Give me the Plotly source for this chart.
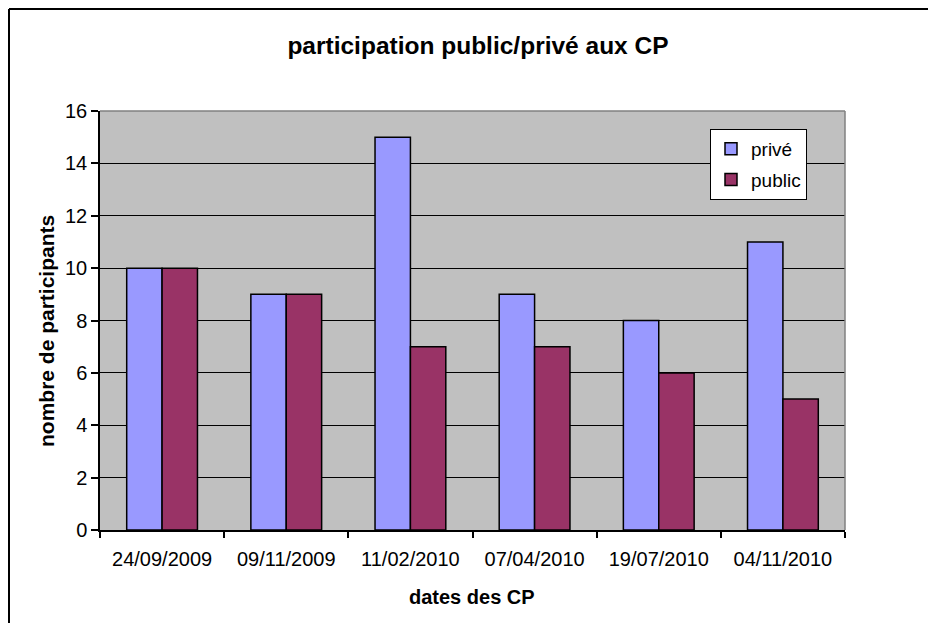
import plotly.graph_objects as go

categories = ["24/09/2009", "09/11/2009", "11/02/2010", "07/04/2010", "19/07/2010", "04/11/2010"]
prive = [10, 9, 15, 9, 8, 11]
public = [10, 9, 7, 7, 6, 5]
y_ticks = [0, 2, 4, 6, 8, 10, 12, 14, 16]

FONT = "Liberation Sans, Arial, sans-serif"

OFF = 8  # page body margin offset in the screenshot
W, H = 936 - OFF, 623 - OFF
L, R, T, B = 100 - OFF, 845 - OFF, 111 - OFF, 530 - OFF


def px_x(p):
    """screenshot x pixel -> paper coordinate"""
    return (p - OFF - L) / (R - L)


def px_y(p):
    """screenshot y pixel -> paper coordinate"""
    return (B - (p - OFF)) / (B - T)


fig = go.Figure()
fig.add_trace(go.Bar(x=categories, y=prive, name="privé", legendgroup="a",
                     marker=dict(color="#9999FF", line=dict(color="black", width=1.5))))
fig.add_trace(go.Bar(x=categories, y=public, name="public", legendgroup="b",
                     marker=dict(color="#993366", line=dict(color="black", width=1.5))))

shapes = [
    dict(type="line", xref="paper", yref="paper", x0=0, x1=1, y0=1, y1=1,
         line=dict(color="#808080", width=1.5)),
    dict(type="line", xref="paper", yref="paper", x0=1, x1=1, y0=0, y1=1,
         line=dict(color="#808080", width=1.5)),
    # outer chart border: only top and left edges are visible
    dict(type="line", xref="paper", yref="paper",
         x0=px_x(OFF + 1), x1=px_x(OFF + W + 20), y0=px_y(OFF + 1), y1=px_y(OFF + 1),
         line=dict(color="black", width=2)),
    dict(type="line", xref="paper", yref="paper",
         x0=px_x(OFF + 1), x1=px_x(OFF + 1), y0=px_y(OFF + 1), y1=px_y(OFF + H + 20),
         line=dict(color="black", width=2)),
]

annotations = [
    dict(text="<b>dates des CP</b>", xref="paper", yref="paper", x=px_x(472), y=px_y(597),
         showarrow=False, xanchor="center", yanchor="middle",
         font=dict(family=FONT, size=20, color="black")),
    dict(text="<b>nombre de participants</b>", xref="paper", yref="paper", x=px_x(46), y=px_y(331),
         showarrow=False, xanchor="center", yanchor="middle", textangle=-90,
         font=dict(family=FONT, size=21, color="black")),
]

fig.update_layout(
    width=W, height=H,
    margin=dict(l=L, r=W - R, t=T, b=H - B, pad=0),
    paper_bgcolor="white",
    plot_bgcolor="#C0C0C0",
    barmode="group",
    bargap=0.43,
    bargroupgap=0,
    font=dict(family=FONT, size=20, color="black"),
    title=dict(text="<b>participation public/privé aux CP</b>", x=px_x(478), xref="paper",
               xanchor="center", y=1 - (45 - OFF) / H, yanchor="middle",
               font=dict(family=FONT, size=24.5, color="black")),
    showlegend=True,
    legend=dict(x=px_x(710), y=px_y(129), xanchor="left", yanchor="top",
                bgcolor="white", bordercolor="black", borderwidth=1,
                font=dict(family=FONT, size=19, color="black"),
                traceorder="grouped", tracegroupgap=3, itemwidth=30),
    xaxis=dict(type="category", tickson="boundaries", ticks="outside", ticklen=6,
               tickcolor="black", tickwidth=1.5, showline=True, linecolor="black", linewidth=1.5,
               showgrid=False, tickfont=dict(family=FONT, size=20, color="black"),
               ticklabelstandoff=10, automargin=False),
    yaxis=dict(range=[0, 16], tickvals=y_ticks, ticks="outside", ticklen=7,
               tickcolor="black", tickwidth=1.5, showline=True, linecolor="black", linewidth=1.5,
               showgrid=True, gridcolor="black", gridwidth=1, zeroline=False,
               tickfont=dict(family=FONT, size=20, color="black"), automargin=False),
    shapes=shapes,
    annotations=annotations,
)

fig.write_html("out.html")
